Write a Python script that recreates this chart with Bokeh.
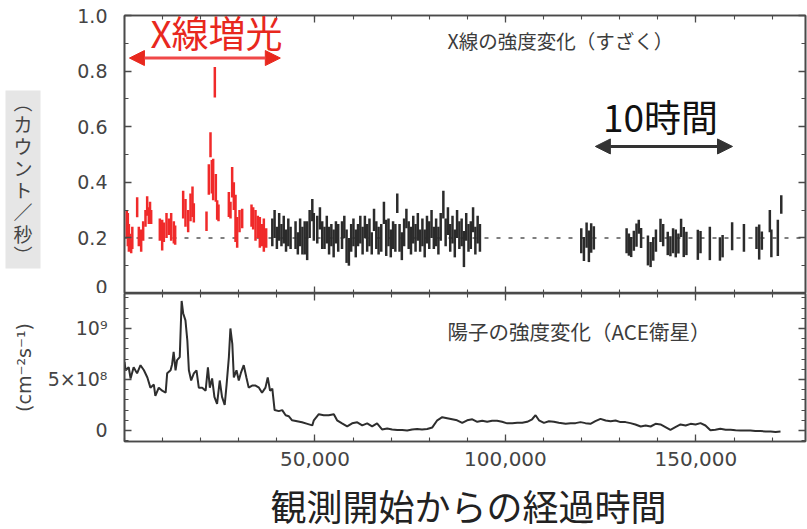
from bokeh.plotting import figure
from bokeh.layouts import column, row
from bokeh.models import (Range1d, FixedTicker, LinearAxis, NumeralTickFormatter,
                          Label, Arrow, NormalHead, Span, ColumnDataSource, BoxAnnotation)
from bokeh.embed import file_html
from bokeh.resources import INLINE

# ---------------- data ----------------
# X-ray light curve (Suzaku): flare interval (red)
red_time = [600, 875, 1150, 1400, 1750, 2050,
            3325, 3760, 4375, 4900,
            5510, 5950, 6390, 6700, 7000,
            9275, 9890, 10325, 11025, 11640, 12250, 12950, 13300,
            15400, 16010, 16710, 17325, 17850, 18200,
            21525, 22140, 22575, 22925, 23275, 23710, 23975, 24325, 24675,
            27390, 27825, 28260, 28700, 29140, 29575, 30190, 30890,
            33340, 33775, 34390, 35000, 35525, 36140, 36575, 37190]
red_rate = [0.25, 0.23, 0.20, 0.185, 0.17, 0.20,
            0.31, 0.205, 0.19, 0.225,
            0.27, 0.315, 0.28, 0.29, 0.275,
            0.23, 0.21, 0.22, 0.245, 0.24, 0.24, 0.22, 0.21,
            0.32, 0.29, 0.26, 0.31, 0.33, 0.29,
            0.26, 0.41, 0.535, 0.42, 0.41, 0.76, 0.38, 0.30, 0.29,
            0.32, 0.30, 0.40, 0.35, 0.27, 0.22, 0.26, 0.27,
            0.28, 0.27, 0.245, 0.24, 0.22, 0.21, 0.21, 0.20]
red_err = [0.05, 0.06, 0.05, 0.03, 0.025, 0.04,
           0.036, 0.035, 0.04, 0.035,
           0.03, 0.035, 0.03, 0.04, 0.025,
           0.04, 0.055, 0.035, 0.045, 0.03, 0.05, 0.04, 0.035,
           0.05, 0.05, 0.04, 0.05, 0.055, 0.035,
           0.035, 0.055, 0.045, 0.06, 0.075, 0.055, 0.05, 0.035, 0.03,
           0.045, 0.03, 0.055, 0.05, 0.085, 0.055, 0.04, 0.035,
           0.04, 0.04, 0.055, 0.04, 0.055, 0.04, 0.06, 0.035]

# X-ray light curve: quiescent interval (black)
black_time = [38800, 39400, 40000, 40600, 41200, 41800, 42400, 43000, 43600,
              44900, 45500, 46100, 46700, 47300, 47950, 48600, 49300, 49700,
              50600, 51300, 51900, 52500, 53100, 53700, 54300, 54900, 55500, 56100,
              57100, 57700, 58300, 58900, 59500, 60100, 60700, 61300, 61900,
              62500, 63100, 63700, 64300, 64900, 65500,
              66100, 66700, 67400, 68100, 68700, 69300, 69900, 70500, 71100, 71600,
              72200, 72800, 73400, 74000, 74600, 75200, 75800,
              76400, 77000, 77600, 78200, 78800, 79400, 80000, 80600, 81200, 81800,
              82400, 83000, 83700, 84300, 84900, 85500, 86100, 86700, 87300, 87900,
              88500, 89100, 89700, 90300, 90900, 91500, 92100, 92700, 93300,
              119900, 120600, 121300, 121900, 122500, 123200,
              131800, 132400, 133000, 133700, 134400, 135000, 135600,
              137400, 138100, 138800, 139500, 140700, 141400,
              142600, 143300, 144000, 144700, 145400, 146100, 146800, 147500,
              150500, 151200, 153650, 156300, 157000, 159500, 162600,
              165900, 166600, 167300, 169400, 169800, 171500, 172400]
black_rate = [0.22, 0.25, 0.20, 0.24, 0.21, 0.23, 0.19, 0.22, 0.20,
              0.21, 0.18, 0.22, 0.19, 0.20, 0.19, 0.25, 0.30, 0.24,
              0.23, 0.27, 0.21, 0.20, 0.23, 0.19, 0.21, 0.18, 0.22, 0.20,
              0.21, 0.24, 0.17, 0.15, 0.20, 0.22, 0.18, 0.21, 0.23,
              0.19, 0.24, 0.20, 0.22, 0.18, 0.265,
              0.21, 0.19, 0.20, 0.29, 0.20, 0.22, 0.18, 0.21, 0.20, 0.325,
              0.20, 0.17, 0.22, 0.27, 0.21, 0.19, 0.23,
              0.20, 0.24, 0.19, 0.22, 0.18, 0.23, 0.21, 0.25, 0.20, 0.22,
              0.19, 0.24, 0.32, 0.22, 0.26, 0.20, 0.23, 0.18, 0.25, 0.21,
              0.22, 0.16, 0.24, 0.20, 0.21, 0.265, 0.19, 0.23, 0.20,
              0.19, 0.16, 0.21, 0.17, 0.20, 0.20,
              0.19, 0.176, 0.167, 0.19, 0.21, 0.24, 0.20,
              0.155, 0.14, 0.16, 0.19, 0.227, 0.21,
              0.18, 0.17, 0.19, 0.18, 0.18, 0.236, 0.185, 0.18,
              0.175, 0.185, 0.18, 0.16, 0.17, 0.206, 0.20,
              0.20, 0.185, 0.19, 0.26, 0.18, 0.20, 0.32]
black_err = [0.05, 0.05, 0.04, 0.05, 0.04, 0.05, 0.04, 0.05, 0.04,
             0.05, 0.04, 0.05, 0.05, 0.06, 0.07, 0.05, 0.04, 0.05,
             0.05, 0.04, 0.05, 0.04, 0.05, 0.05, 0.04, 0.05, 0.04, 0.05,
             0.05, 0.04, 0.06, 0.05, 0.05, 0.05, 0.05, 0.04, 0.05,
             0.05, 0.04, 0.05, 0.05, 0.04, 0.04,
             0.05, 0.05, 0.05, 0.04, 0.065, 0.05, 0.05, 0.05, 0.05, 0.035,
             0.05, 0.05, 0.05, 0.035, 0.05, 0.05, 0.05,
             0.05, 0.05, 0.04, 0.05, 0.05, 0.05, 0.05, 0.05, 0.04, 0.05,
             0.05, 0.05, 0.05, 0.05, 0.05, 0.05, 0.05, 0.05, 0.05, 0.05,
             0.05, 0.065, 0.05, 0.05, 0.05, 0.045, 0.05, 0.05, 0.05,
             0.045, 0.043, 0.045, 0.057, 0.053, 0.042,
             0.045, 0.04, 0.036, 0.036, 0.042, 0.025, 0.036,
             0.054, 0.045, 0.042, 0.04, 0.042, 0.04,
             0.042, 0.036, 0.045, 0.05, 0.036, 0.033, 0.054, 0.042,
             0.054, 0.04, 0.06, 0.042, 0.04, 0.05, 0.05,
             0.04, 0.063, 0.033, 0.04, 0.05, 0.065, 0.033]

# Proton flux (ACE), in units of 1e8 cm^-2 s^-1
proton_time = [0, 300, 1100, 1600, 2400, 3300, 4200, 5100, 6000, 6800, 7700, 8100,
               9000, 9900, 10800, 11200, 12100, 12500, 12900, 13400, 13800, 14500,
               15000, 15400, 16000, 16500, 16900, 17500, 18200, 18900, 19500, 20400,
               21300, 21900, 22400, 23000, 23600, 24300, 25000, 25600, 26300, 26800,
               27400, 27800, 28300, 28700, 29400, 30000, 30600, 31300, 32000, 32600,
               33500, 34400, 35300, 36100, 37000, 37600, 38200, 38800, 39400, 40500,
               41400, 42300, 43100, 44000, 45300, 46600, 48000, 49300, 49700, 51000,
               52300, 53600, 54950, 55800, 57100, 58450, 59750, 61100, 62400, 63700,
               65000, 66300, 67600, 68950, 70250, 71600, 72900, 74200, 75500, 76800,
               78100, 79450, 80800, 82100, 83400, 84700, 86000, 87300, 88650, 89950,
               91300, 92600, 93900, 95200, 96500, 97800, 99100, 100450, 101800, 103100,
               104400, 105700, 107000, 107900, 108800, 110100, 111400, 112700, 114000,
               115800, 117100, 118400, 119700, 121000, 122300, 123600, 124950, 126300,
               127600, 128900, 130200, 131500, 132800, 134100, 135500, 136800, 138100,
               139400, 140700, 142000, 143300, 144600, 145950, 147300, 148600, 149900,
               151200, 152500, 153800, 155100, 156400, 157800, 159100, 160400, 161700,
               163000, 164300, 165600, 166900, 168300, 169600, 170900, 172200]
proton_flux = [6.7, 5.9, 6.2, 5.1, 6.2, 5.6, 6.4, 5.9, 5.2, 4.2, 4.5, 3.4,
               4.2, 3.9, 3.7, 5.6, 5.9, 6.5, 7.7, 5.9, 6.9, 7.2,
               12.7, 11.5, 10.8, 8.8, 5.9, 4.9, 5.6, 5.9, 4.2, 4.2,
               3.9, 6.2, 4.2, 5.1, 3.3, 2.6, 4.9, 3.3, 2.5, 4.5,
               7.2, 10.0, 8.5, 5.2, 5.9, 4.9, 5.7, 6.4, 5.2, 4.2,
               4.4, 4.4, 4.2, 3.7, 4.2, 5.2, 3.9, 4.1, 2.0, 1.9,
               2.0, 1.5, 1.4, 1.0, 0.9, 0.8, 0.65, 0.5, 1.0, 1.6,
               1.5, 1.5, 1.6, 1.0, 0.7, 0.4, 0.7, 0.8, 0.5, 0.7,
               0.4, 0.7, 0.1, 0.2, 0.1, 0.05, 0.05, 0.0, 0.1, 0.15,
               0.1, 0.15, 0.3, 1.0, 1.3, 1.2, 1.1, 1.0, 0.75, 1.0,
               1.1, 0.85, 0.95, 0.85, 0.95, 0.95, 0.85, 0.7, 0.7, 0.75,
               0.75, 0.85, 1.1, 1.5, 1.0, 0.75, 0.9, 0.85, 0.75,
               0.65, 0.72, 0.72, 0.82, 0.72, 0.65, 0.91, 1.14, 0.98,
               0.91, 0.98, 0.82, 0.82, 0.72, 0.59, 0.39, 0.49, 0.39,
               0.65, 0.59, 0.33, 0.07, 0.33, 0.59, 0.49, 0.65, 0.59,
               0.72, 0.49, 0.02, 0.07, 0.16, 0.07, 0.07, 0.02, 0.0,
               0.0, 0.0, -0.05, -0.05, -0.1, -0.1, -0.15, -0.1]

top_yticks = [0, 0.2, 0.4, 0.6, 0.8, 1.0]
top_ytick_labels = ["0", "0.2", "0.4", "0.6", "0.8", "1.0"]
bottom_yticks = [0, 5, 10]
bottom_ytick_labels = ["0", "5×10⁸", "10⁹"]
xticks = [50000, 100000, 150000]

# ---------------- styling / layout ----------------
X_START, X_END = 0, 178760
BOT_Y = (-1.08, 13.43)
AX = "#4a4a4a"
LABEL_COL = "#444444"
TICK_FONT = "DejaVu Sans"
JP = "Noto Sans CJK JP"
W = 807
SIDE_W = 44


def frame_axis(ax, ticker, show_labels, size="19px", standoff=17):
    ax.ticker = ticker
    ax.axis_line_color = AX
    ax.axis_line_width = 1.6
    ax.major_tick_line_color = AX
    ax.minor_tick_line_color = AX
    ax.major_tick_line_width = 1.3
    ax.minor_tick_line_width = 1.1
    ax.major_tick_in = 7
    ax.major_tick_out = 0
    ax.minor_tick_in = 4
    ax.minor_tick_out = 0
    if show_labels:
        ax.major_label_text_font = TICK_FONT
        ax.major_label_text_font_size = size
        ax.major_label_text_color = LABEL_COL
        ax.major_label_standoff = standoff
    else:
        ax.major_label_text_font_size = "0px"
        ax.major_label_text_color = None
        ax.major_label_standoff = 0


def x_ticker():
    return FixedTicker(ticks=xticks, minor_ticks=list(range(0, 180001, 10000)))


def plain_fig(width, height, x_range, y_range):
    f = figure(width=width, height=height, x_range=x_range, y_range=y_range,
               x_axis_type=None, y_axis_type=None, output_backend="svg", toolbar_location=None,
               min_border=0)
    f.outline_line_color = None
    f.xgrid.visible = False
    f.ygrid.visible = False
    return f


# ---- top panel: X-ray ----
top = figure(width=W - SIDE_W, height=293, x_range=Range1d(X_START, X_END), y_range=Range1d(0, 1.0),
             output_backend="svg", toolbar_location=None,
             min_border_left=124 - SIDE_W, min_border_right=2, min_border_top=15, min_border_bottom=0)
top.xgrid.visible = False
top.ygrid.visible = False
top.outline_line_color = AX
top.outline_line_width = 1.6

frame_axis(top.xaxis[0], x_ticker(), False)
frame_axis(top.yaxis[0], FixedTicker(ticks=top_yticks, minor_ticks=[i / 10 for i in range(11)]), True)
top.yaxis[0].major_label_overrides = dict(zip(top_yticks, top_ytick_labels))
ax_r = LinearAxis()
frame_axis(ax_r, FixedTicker(ticks=top_yticks, minor_ticks=[i / 10 for i in range(11)]), False)
top.add_layout(ax_r, "right")
ax_t = LinearAxis()
frame_axis(ax_t, x_ticker(), False)
top.add_layout(ax_t, "above")

top.add_layout(Span(location=0.2, dimension="width", line_color="#555555", line_width=1.5,
                    line_dash="4 8", level="underlay"))

red_src = ColumnDataSource(dict(t=red_time,
                                lo=[r - e for r, e in zip(red_rate, red_err)],
                                hi=[r + e for r, e in zip(red_rate, red_err)]))
black_src = ColumnDataSource(dict(t=black_time,
                                  lo=[r - e for r, e in zip(black_rate, black_err)],
                                  hi=[r + e for r, e in zip(black_rate, black_err)]))
top.segment(x0="t", y0="lo", x1="t", y1="hi", source=black_src, line_color="#2b2b2b", line_width=2.5)
top.segment(x0="t", y0="lo", x1="t", y1="hi", source=red_src, line_color="#f02a2a", line_width=2.5)

RED = "#e8281e"
top.add_layout(Label(x=24150, y=0.94, text="X線増光", text_align="center", text_baseline="middle",
                     text_font=JP, text_font_size="37px", text_color=RED))
top.add_layout(Arrow(start=NormalHead(size=15, fill_color=RED, line_color=RED),
                     end=NormalHead(size=15, fill_color=RED, line_color=RED),
                     x_start=1300, y_start=0.847, x_end=40900, y_end=0.847,
                     line_color="#f04848", line_width=3))
top.add_layout(Label(x=84800, y=0.91, text="X線の強度変化（すざく）", text_baseline="middle",
                     text_font=JP, text_font_size="19.5px", text_color="#3c3c3c"))
top.add_layout(Label(x=140700, y=0.64, text="10時間", text_align="center", text_baseline="middle",
                     text_font=JP, text_font_size="37px", text_color="#111111"))
top.add_layout(Arrow(start=NormalHead(size=15, fill_color="#333333", line_color="#333333"),
                     end=NormalHead(size=15, fill_color="#333333", line_color="#333333"),
                     x_start=123600, y_start=0.529, x_end=159600, y_end=0.529,
                     line_color="#333333", line_width=3))

# ---- side strip with the vertical y-axis title of the X-ray panel ----
# (its frame is aligned with the X-ray panel's frame, so it shares that y range)
side = plain_fig(SIDE_W, 293, Range1d(0, SIDE_W), top.y_range)
side.add_layout(BoxAnnotation(left=5, right=40, bottom=0.09, top=0.73,
                              fill_color="#e6e6e6", fill_alpha=1.0, line_color=None))
side.add_layout(Label(x=22.5, y=0.414, text="︵\nカ\nウ\nン\nト\n／\n秒\n︶",
                      text_align="center", text_baseline="middle",
                      text_font=JP, text_font_size="19px", text_color="#444444",
                      text_line_height=0.81))

# ---- bottom panel: protons ----
bot = figure(width=W, height=182, x_range=top.x_range, y_range=Range1d(*BOT_Y),
             output_backend="svg", toolbar_location=None,
             min_border_left=124, min_border_right=2, min_border_top=0, min_border_bottom=34)
bot.xgrid.visible = False
bot.ygrid.visible = False
bot.outline_line_color = AX
bot.outline_line_width = 1.6

frame_axis(bot.xaxis[0], x_ticker(), True, size="20px", standoff=10)
bot.xaxis[0].formatter = NumeralTickFormatter(format="0,0")
frame_axis(bot.yaxis[0], FixedTicker(ticks=bottom_yticks, minor_ticks=list(range(-1, 14))), True)
bot.yaxis[0].major_label_overrides = dict(zip(bottom_yticks, bottom_ytick_labels))
bot.yaxis[0].axis_label = "(cm⁻²s⁻¹)"
bot.yaxis[0].axis_label_text_font = TICK_FONT
bot.yaxis[0].axis_label_text_font_size = "19px"
bot.yaxis[0].axis_label_text_font_style = "normal"
bot.yaxis[0].axis_label_text_color = LABEL_COL
bot.yaxis[0].axis_label_standoff = 10
ax_r2 = LinearAxis()
frame_axis(ax_r2, FixedTicker(ticks=bottom_yticks, minor_ticks=list(range(-1, 14))), False)
bot.add_layout(ax_r2, "right")
ax_t2 = LinearAxis()
frame_axis(ax_t2, x_ticker(), False)
bot.add_layout(ax_t2, "above")

bot.line(x=proton_time, y=proton_flux, line_color="#2e2e2e", line_width=2.0)

bot.add_layout(Label(x=84800, y=9.8, text="陽子の強度変化（ACE衛星）", text_baseline="middle",
                     text_font=JP, text_font_size="20.5px", text_color="#3c3c3c"))

# ---- x-axis title strip (frame aligned with the panels, shares the time axis) ----
xtitle = plain_fig(W, 54, top.x_range, Range1d(0, 54))
xtitle.add_layout(Label(x=90300, y=25, text="観測開始からの経過時間",
                        text_align="center", text_baseline="middle",
                        text_font=JP, text_font_size="36px", text_color="#222222"))

layout = column(row(side, top), bot, xtitle)
open("out.html", "w").write(file_html(layout, INLINE))
